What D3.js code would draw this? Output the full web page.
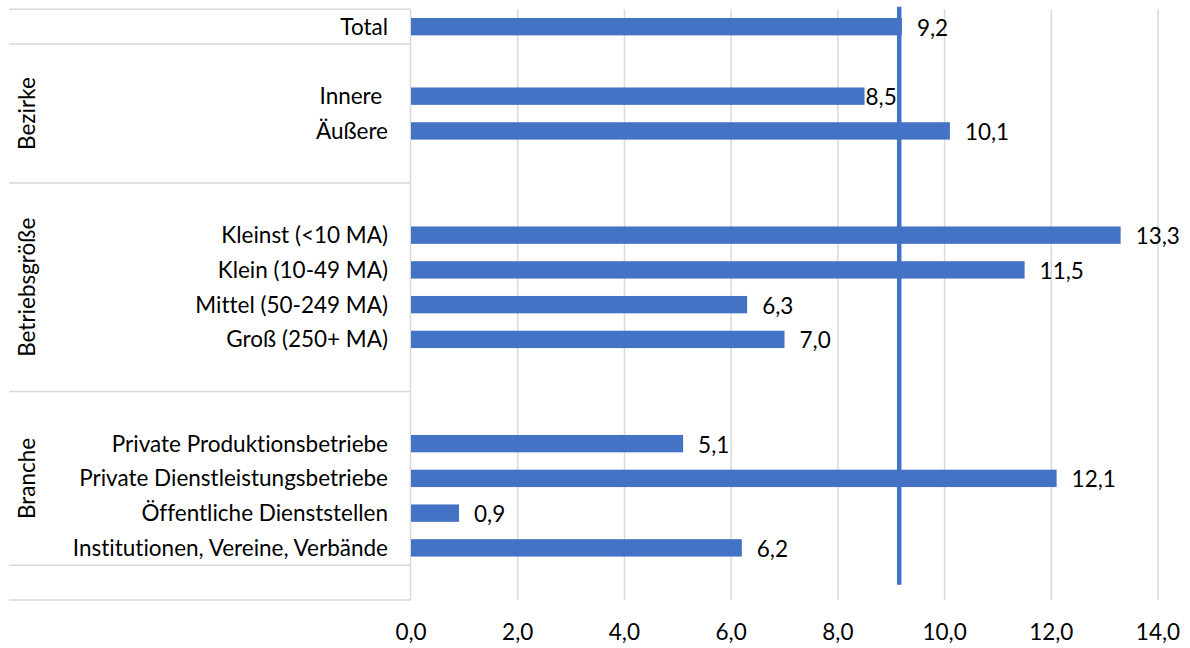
<!DOCTYPE html>
<html>
<head>
<meta charset="utf-8">
<script src="https://cdn.jsdelivr.net/npm/d3@7/dist/d3.min.js"></script>
<style>
  html, body { margin: 0; padding: 0; background: #fff; }
  svg text { font-family: Lato, "Open Sans", sans-serif; fill: #000; white-space: pre; font-variant-ligatures: none; }
</style>
</head>
<body>
<svg id="chart" width="1190" height="648"></svg>
<script>
// Rows of the category axis (blank rows separate the groups)
const rowLabels = [
  "Total", "", "Innere ", "Äußere", "",
  "", "Kleinst (<10 MA)", "Klein (10-49 MA)", "Mittel (50-249 MA)", "Groß (250+ MA)", "",
  "", "Private Produktionsbetriebe", "Private Dienstleistungsbetriebe",
  "Öffentliche Dienststellen", "Institutionen, Vereine, Verbände", ""
];
const rowValues = [
  9.2, null, 8.5, 10.1, null,
  null, 13.3, 11.5, 6.3, 7.0, null,
  null, 5.1, 12.1, 0.9, 6.2, null
];
const rowGroups = [
  "total", "Bezirke", "Bezirke", "Bezirke", "Bezirke",
  "Betriebsgröße", "Betriebsgröße", "Betriebsgröße", "Betriebsgröße", "Betriebsgröße", "Betriebsgröße",
  "Branche", "Branche", "Branche", "Branche", "Branche", "end"
];
const groupTitles = { "Bezirke": "Bezirke", "Betriebsgröße": "Betriebsgröße", "Branche": "Branche" };
const tickValues = [0, 2, 4, 6, 8, 10, 12, 14];
const averageValue = 9.15;

const svg = d3.select("#chart");
const fmt = v => d3.format(".1f")(v).replace(".", ",");
const fontSize = 22.5;

const plotLeft = 411, plotRight = 1158, plotTop = 9.3, plotBottom = 600;
const x = d3.scaleLinear().domain([0, 14]).range([plotLeft, plotRight]);
const y = d3.scaleBand().domain(d3.range(rowLabels.length)).range([plotTop, plotBottom]).paddingInner(0.5).paddingOuter(0.25);
const step = y.step();
const rowTop = i => plotTop + i * step;
const rowMid = i => rowTop(i) + step / 2;

const grid = "#d9d9d9";

// vertical gridlines
svg.append("g").selectAll("line").data(tickValues.slice(1)).join("line")
  .attr("x1", d => x(d)).attr("x2", d => x(d))
  .attr("y1", plotTop).attr("y2", plotBottom)
  .attr("stroke", grid).attr("stroke-width", 1.5);

// category axis line
svg.append("line").attr("x1", plotLeft - 0.5).attr("x2", plotLeft - 0.5)
  .attr("y1", plotTop).attr("y2", plotBottom).attr("stroke", grid).attr("stroke-width", 1.5);

// group separators (contiguous runs of rowGroups)
const runs = [];
rowGroups.forEach((g, i) => {
  if (!runs.length || runs[runs.length - 1].key !== g) runs.push({ key: g, start: i, end: i });
  else runs[runs.length - 1].end = i;
});
const sepYs = [plotTop].concat(runs.map(r => rowTop(r.end + 1)));
svg.append("g").selectAll("line").data(sepYs).join("line")
  .attr("x1", 9).attr("x2", plotLeft - 0.5)
  .attr("y1", d => d).attr("y2", d => d)
  .attr("stroke", grid).attr("stroke-width", 1.5);

// group titles (rotated)
svg.append("g").selectAll("text").data(runs.filter(r => groupTitles[r.key])).join("text")
  .attr("transform", r => `translate(35,${(rowTop(r.start) + rowTop(r.end + 1)) / 2}) rotate(-90)`)
  .attr("text-anchor", "middle")
  .attr("font-size", fontSize)
  .text(r => groupTitles[r.key]);

// category labels
svg.append("g").selectAll("text").data(rowLabels.map((l, i) => ({ l, i })).filter(d => d.l)).join("text")
  .attr("x", 388).attr("y", d => rowMid(d.i))
  .attr("dy", "0.35em")
  .attr("text-anchor", "end")
  .attr("font-size", fontSize)
  .text(d => d.l);

// bars
const barData = rowValues.map((v, i) => ({ v, i })).filter(d => d.v !== null);
svg.append("g").selectAll("rect").data(barData).join("rect")
  .attr("x", x(0)).attr("y", d => y(d.i))
  .attr("width", d => x(d.v) - x(0)).attr("height", y.bandwidth())
  .attr("fill", "#4472C4");

// average line
svg.append("line")
  .attr("x1", x(averageValue)).attr("x2", x(averageValue))
  .attr("y1", plotTop - 2.5).attr("y2", rowMid(rowLabels.length - 1) + 2)
  .attr("stroke", "#4472C4").attr("stroke-width", 4.5);

// value labels (pulled onto the bar end when they would cross the average line)
svg.append("g").selectAll("text").data(barData).join("text")
  .attr("x", d => {
    const gap = 15, est = 28;
    const start = x(d.v) + gap;
    const lx = x(averageValue);
    return (start < lx + 4 && start + est > lx - 4) ? x(d.v) + 1 : start;
  })
  .attr("y", d => rowMid(d.i) + 1)
  .attr("dy", "0.35em")
  .attr("font-size", fontSize)
  .text(d => fmt(d.v));

// value axis tick labels
svg.append("g").selectAll("text").data(tickValues).join("text")
  .attr("x", d => x(d)).attr("y", 632)
  .attr("dy", "0.35em")
  .attr("text-anchor", "middle")
  .attr("font-size", fontSize)
  .text(d => fmt(d));
</script>
</body>
</html>
